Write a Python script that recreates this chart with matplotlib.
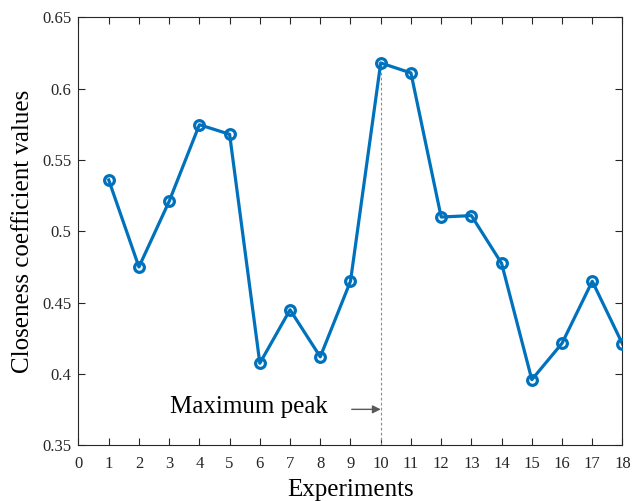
import matplotlib
matplotlib.use("Agg")
import matplotlib.pyplot as plt

experiments = list(range(1, 19))
closeness = [0.536, 0.475, 0.521, 0.5747, 0.568, 0.4075, 0.445, 0.412, 0.465,
             0.618, 0.611, 0.510, 0.511, 0.4775, 0.396, 0.4215, 0.465, 0.421]
xticks = list(range(0, 19))
yticks = [0.35, 0.4, 0.45, 0.5, 0.55, 0.6, 0.65]
ytick_labels = ["0.35", "0.4", "0.45", "0.5", "0.55", "0.6", "0.65"]
peak_x = 10
peak_y = 0.618
annot_text = "Maximum peak"

plt.rcParams['font.family'] = ['Liberation Serif', 'DejaVu Serif']

fig = plt.figure(figsize=(6.33, 5.01), dpi=100)
ax = fig.add_axes([0.124, 0.1112, 0.8594, 0.8543])

axcol = '#262626'
ax.plot(experiments, closeness, color='#0072BD', linewidth=2.3, marker='o',
        markersize=7, markerfacecolor='none', markeredgewidth=2.3, zorder=3)

ax.plot([peak_x, peak_x], [0.35, peak_y], linestyle=(0, (2.5, 2)), color='#8c8c8c',
        linewidth=0.8, zorder=2)
ax.annotate('', xy=(peak_x, 0.3752), xytext=(9.04, 0.3752),
            arrowprops=dict(arrowstyle='-|>', color='#595959', lw=1.0,
                            mutation_scale=12, shrinkA=0, shrinkB=0))
ax.text(3.03, 0.3726, annot_text, fontsize=18, ha='left', va='baseline', color='black')

ax.set_xlim(0, 18)
ax.set_ylim(0.35, 0.65)
ax.set_xticks(xticks)
ax.set_xticklabels([str(t) for t in xticks])
ax.set_yticks(yticks)
ax.set_yticklabels(ytick_labels)

ax.tick_params(direction='in', length=5, width=0.8, colors=axcol, labelsize=12,
               top=True, right=True, labeltop=False, labelright=False)
ax.tick_params(axis='x', pad=8)
ax.tick_params(axis='y', pad=5)
for s in ax.spines.values():
    s.set_color(axcol)
    s.set_linewidth(0.8)

ax.set_xlabel('Experiments', fontsize=18, color='black', labelpad=5)
ax.set_ylabel('Closeness coefficient values', fontsize=18, color='black', labelpad=6)

fig.savefig('out.png', dpi=100)
